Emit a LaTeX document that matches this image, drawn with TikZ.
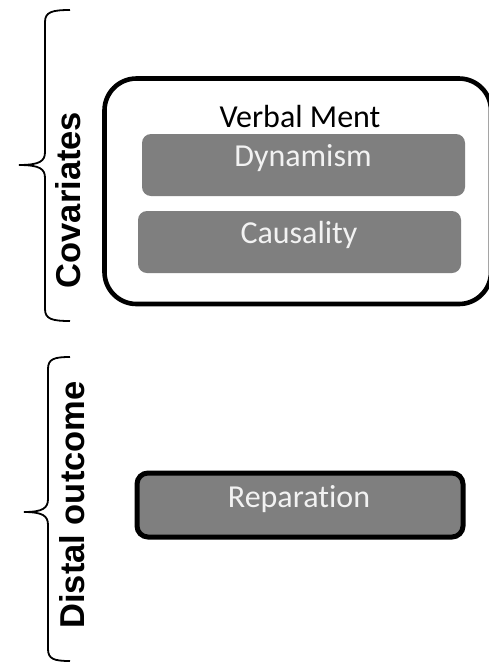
\documentclass[tikz,border=0pt]{standalone}
\usepackage{fontspec}
\setmainfont[Ligatures=NoCommon]{Carlito}
\newfontfamily\arialfont{Liberation Sans}
\begin{document}
\begin{tikzpicture}[x=1pt,y=-1pt,
  bracestyle/.style={draw=black,line width=1.8pt},
  sidelabel/.style={font=\arialfont\bfseries\fontsize{34.5}{40}\selectfont,rotate=90,inner sep=0pt},
  graybox/.style={fill=gray50,rounded corners=9pt},
  boxtext/.style={text=textgray,font=\fontsize{32}{36}\selectfont,inner sep=0pt},
  outer/.style={draw=black,line width=4.6pt,rounded corners=32pt,fill=white},
]
\definecolor{gray50}{HTML}{7F7F7F}
\definecolor{textgray}{HTML}{F2F2F2}
\useasboundingbox (0,0) rectangle (489,662);
% upper brace
\draw[bracestyle] (70,10) .. controls (52,10) and (45,12) .. (45,22) -- (45,152)
  .. controls (45,161) and (40,165) .. (19,165)
  .. controls (40,165) and (45,169) .. (45,178) -- (45,309)
  .. controls (45,319) and (52,321) .. (70,321);
% lower brace
\draw[bracestyle] (70,357) .. controls (54,357) and (48,359) .. (48,369) -- (48,499)
  .. controls (48,508) and (43,512) .. (24,512)
  .. controls (43,512) and (48,516) .. (48,525) -- (48,649)
  .. controls (48,659) and (54,661) .. (70,661);
\node[sidelabel] (cov) at (68,200) {Covariates};
\node[sidelabel] (dist) at (72,505) {Distal outcome};
% outer rounded box (right edge at the picture border)
\path[outer] (104.5,78.5) rectangle (491,304);
\node[font=\fontsize{32}{36}\selectfont,inner sep=0pt] (vm) at (300,117) {Verbal Ment};
\path[graybox] (142,134) rectangle (465,196);
\node[boxtext] (dyn) at (303,158) {Dynamism};
\path[graybox] (138,211) rectangle (461,273);
\node[boxtext] (caus) at (299,235) {Causality};
\path[draw=black,line width=5pt,fill=gray50,rounded corners=11pt] (137,473) rectangle (463,537);
\node[boxtext] (rep) at (299,499) {Reparation};
\end{tikzpicture}
\end{document}
